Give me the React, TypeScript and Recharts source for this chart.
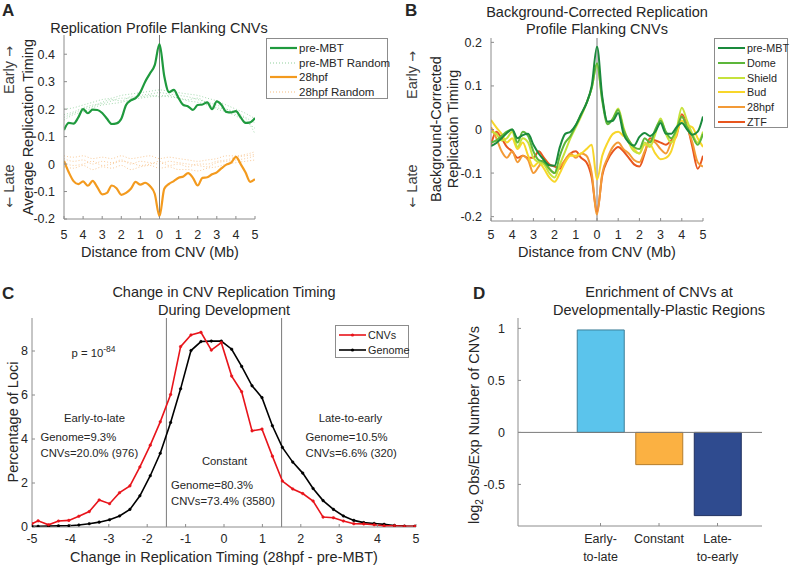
import React from "react";
import {
  LineChart,
  Line,
  BarChart,
  Bar,
  Cell,
  XAxis,
  YAxis,
  ReferenceLine,
} from "recharts";

const W = 797;
const H = 567;
const FONT = '"Liberation Sans", Arial, Helvetica, sans-serif';
const INK = "#262626";
const AXIS = "#8c8c8c";

// ---- panels A and B: distance from CNV (Mb)
const profileX = [
  -5, -4.75, -4.5, -4.25, -4, -3.75, -3.5, -3.25, -3, -2.75, -2.5, -2.25, -2,
  -1.75, -1.5, -1.25, -1, -0.75, -0.5, -0.25, 0, 0.25, 0.5, 0.75, 1, 1.25, 1.5,
  1.75, 2, 2.25, 2.5, 2.75, 3, 3.25, 3.5, 3.75, 4, 4.25, 4.5, 4.75, 5,
];
const distTicks = [-5, -4, -3, -2, -1, 0, 1, 2, 3, 4, 5];
const distTickLabels = ["5", "4", "3", "2", "1", "0", "1", "2", "3", "4", "5"];

const preMbtA = [
  0.124, 0.15, 0.147, 0.17, 0.2, 0.185, 0.198, 0.197, 0.186, 0.165, 0.146,
  0.148, 0.165, 0.215, 0.232, 0.24, 0.262, 0.3, 0.33, 0.36, 0.437, 0.32, 0.262,
  0.27, 0.24, 0.215, 0.21, 0.197, 0.215, 0.217, 0.225, 0.2, 0.228, 0.215, 0.19,
  0.188, 0.193, 0.17, 0.15, 0.152, 0.168,
];
const hpf28A = [
  0.012, -0.03, -0.062, -0.073, -0.063, -0.079, -0.061, -0.085, -0.11, -0.105,
  -0.078, -0.088, -0.112, -0.105, -0.09, -0.065, -0.075, -0.068, -0.08, -0.108,
  -0.19, -0.09, -0.072, -0.062, -0.05, -0.045, -0.033, -0.05, -0.078, -0.05,
  -0.048, -0.037, -0.03, -0.015, -0.002, 0.005, 0.026, 0.0, -0.03, -0.065,
  -0.055,
];

// random-position background profiles
const randomX = [
  -5, -4.5, -4, -3.5, -3, -2.5, -2, -1.5, -1, -0.5, 0, 0.5, 1, 1.5, 2, 2.5, 3,
  3.5, 4, 4.5, 5,
];
const preMbtRand1 = [0.18, 0.19, 0.205, 0.215, 0.22, 0.23, 0.24, 0.24, 0.25, 0.255, 0.26, 0.255, 0.25, 0.245, 0.235, 0.225, 0.215, 0.2, 0.19, 0.17, 0.15];
const preMbtRand2 = [0.16, 0.18, 0.19, 0.205, 0.215, 0.22, 0.225, 0.235, 0.24, 0.245, 0.25, 0.245, 0.24, 0.23, 0.225, 0.215, 0.2, 0.19, 0.175, 0.155, 0.13];
const preMbtRand3 = [0.2, 0.205, 0.215, 0.225, 0.235, 0.24, 0.25, 0.255, 0.26, 0.265, 0.27, 0.265, 0.26, 0.255, 0.25, 0.24, 0.23, 0.215, 0.2, 0.185, 0.165];
const preMbtRand4 = [0.17, 0.185, 0.2, 0.21, 0.225, 0.235, 0.23, 0.245, 0.245, 0.25, 0.245, 0.25, 0.24, 0.235, 0.24, 0.22, 0.205, 0.2, 0.18, 0.165, 0.11];
const hpf28Rand1 = [0.02, 0.01, 0.015, 0.0, 0.01, 0.005, 0.015, 0.0, 0.01, 0.005, 0.0, 0.01, 0.005, 0.0, -0.005, -0.01, 0.005, 0.01, 0.015, 0.02, 0.03];
const hpf28Rand2 = [-0.01, -0.015, -0.005, -0.02, -0.01, -0.015, -0.005, -0.02, -0.01, -0.005, -0.015, -0.01, -0.02, -0.02, -0.025, -0.015, -0.01, 0.0, 0.005, 0.01, 0.015];
const hpf28Rand3 = [0.03, 0.025, 0.03, 0.02, 0.025, 0.02, 0.03, 0.02, 0.025, 0.03, 0.02, 0.025, 0.02, 0.015, 0.01, 0.015, 0.02, 0.03, 0.03, 0.035, 0.045];
const hpf28Rand4 = [0.005, -0.005, 0.0, 0.01, -0.005, 0.0, 0.01, 0.005, -0.005, 0.0, 0.01, -0.005, 0.0, -0.01, 0.0, 0.0, 0.01, 0.015, 0.025, 0.03, 0.035];

// background-corrected profiles (panel B)
const preMbtB = [
  -0.038, -0.031, -0.02, -0.008, 0.0, -0.02, -0.013, -0.01, -0.035, -0.055,
  -0.07, -0.082, -0.083, -0.04, -0.01, -0.005, 0.01, 0.035, 0.06, 0.1, 0.19,
  0.075, 0.018, 0.02, 0.038, -0.01, -0.03, -0.037, -0.017, -0.008, -0.015,
  -0.005, 0.015, -0.01, -0.01, 0.005, 0.015, 0.0, -0.012, -0.005, 0.03,
];
const domeB = [
  -0.03, -0.025, -0.015, -0.005, 0.0, -0.03, -0.005, -0.015, -0.05, -0.07,
  -0.075, -0.09, -0.1, -0.06, -0.03, -0.015, 0.01, 0.035, 0.06, 0.095, 0.152,
  0.065, 0.012, 0.025, 0.045, 0.0, -0.025, -0.04, -0.045, -0.02, -0.03, 0.0,
  0.02, -0.005, -0.02, 0.0, 0.03, 0.005, -0.015, -0.035, -0.01,
];
const shieldB = [
  -0.005, -0.01, -0.025, -0.02, -0.005, -0.04, -0.02, -0.03, -0.065, -0.075,
  -0.08, -0.1, -0.11, -0.08, -0.05, -0.02, 0.005, 0.03, 0.06, 0.095, 0.15,
  0.07, 0.015, 0.025, 0.048, 0.005, -0.03, -0.05, -0.055, -0.03, -0.04, -0.01,
  0.025, -0.01, -0.03, 0.0, 0.05, 0.02, -0.01, -0.03, -0.005,
];
const budB = [
  0.022, 0.005, -0.01, -0.03, -0.02, -0.045, -0.03, -0.06, -0.085, -0.075,
  -0.09, -0.11, -0.12, -0.1, -0.075, -0.06, -0.06, -0.055, -0.045, -0.035,
  -0.115, -0.06, -0.03, -0.01, -0.005, -0.015, -0.025, -0.045, -0.055, -0.035,
  -0.035, -0.055, -0.068, -0.065, -0.05, -0.01, 0.02, 0.01, 0.005, -0.02,
  -0.04,
];
const hpf28B = [
  0.005, -0.02, -0.05, -0.065, -0.05, -0.075, -0.06, -0.07, -0.1, -0.085, -0.07,
  -0.09, -0.1, -0.085, -0.07, -0.055, -0.065, -0.055, -0.06, -0.1, -0.195, -0.1,
  -0.065, -0.04, -0.03, -0.045, -0.055, -0.07, -0.075, -0.05, -0.025, -0.03,
  -0.045, -0.055, -0.03, -0.015, 0.03, 0.005, -0.03, -0.075, -0.085,
];
const ztfB = [
  -0.035, -0.005, -0.02, -0.04, -0.05, -0.065, -0.06, -0.065, -0.065, -0.05,
  -0.065, -0.08, -0.085, -0.09, -0.07, -0.055, -0.05, -0.065, -0.075, -0.11,
  -0.19, -0.105, -0.07, -0.05, -0.04, -0.05, -0.065, -0.08, -0.085, -0.055,
  -0.02, -0.025, -0.03, -0.035, -0.025, -0.01, 0.035, 0.01, -0.04, -0.09, -0.06,
];

// ---- panel C: change in replication timing (28hpf - pre-MBT)
const changeX = [
  -5, -4.84, -4.57, -4.31, -4.04, -3.78, -3.51, -3.25, -2.98, -2.72, -2.45,
  -2.19, -1.92, -1.66, -1.39, -1.13, -0.86, -0.6, -0.33, -0.07, 0.2, 0.46, 0.73,
  0.99, 1.26, 1.52, 1.79, 2.05, 2.32, 2.58, 2.85, 3.11, 3.38, 3.64, 3.91, 4.17,
  4.44, 4.7, 4.97,
];
const cnvPct = [
  0.15, 0.28, 0.1, 0.27, 0.3, 0.49, 0.7, 1.23, 1.06, 1.56, 1.87, 2.73, 3.72,
  4.78, 6.02, 8.2, 8.73, 8.85, 8.04, 8.38, 6.86, 6.15, 4.37, 4.45, 3.22, 2.09,
  1.73, 1.52, 1.18, 0.45, 0.42, 0.27, 0.15, 0.14, 0.1, 0.05, 0.06, 0.03, 0.03,
];
const genomePct = [
  0.03, 0.03, 0.04, 0.05, 0.06, 0.09, 0.15, 0.22, 0.33, 0.5, 0.8, 1.42, 2.33,
  3.35, 4.75, 6.28, 8.02, 8.43, 8.45, 8.45, 8.08, 7.3, 6.42, 5.88, 4.6, 3.62,
  2.95, 2.45, 1.75, 1.2, 0.8, 0.5, 0.3, 0.2, 0.16, 0.12, 0.07, 0.04, 0.03,
];
const changeTicks = [-5, -4, -3, -2, -1, 0, 1, 2, 3, 4, 5];
const pctTicks = [0, 2, 4, 6, 8];

// ---- panel D: enrichment
const enrichPos = [1, 2, 3];
const enrichLabels = [
  ["Early-", "to-late"],
  ["Constant"],
  ["Late-", "to-early"],
];
const enrichVals = [0.985, -0.31, -0.8];
const enrichColors = ["#5bc4ec", "#fbb142", "#2f4b8f"];
const enrichEdges = ["#3d7f98", "#b57d2c", "#1f3060"];

const rowsA = profileX.map((x, i) => ({ x, pre: preMbtA[i], hpf: hpf28A[i] }));
const rowsB = profileX.map((x, i) => ({
  x,
  pre: preMbtB[i],
  dome: domeB[i],
  shield: shieldB[i],
  bud: budB[i],
  hpf: hpf28B[i],
  ztf: ztfB[i],
}));
const rowsC = changeX.map((x, i) => ({ x, cnv: cnvPct[i], genome: genomePct[i] }));
const rowsD = enrichPos.map((p, i) => ({ p, v: enrichVals[i] }));

const randSeries = (vals: number[]) => randomX.map((x, i) => ({ x, v: vals[i] }));

const tickFont = { fill: INK, fontSize: 12.5 };
const blank = () => "";

// margins so that the plot box lands on the given page coordinates
const box = (l: number, t: number, r: number, b: number, yw: number) => ({
  left: l - yw,
  top: t,
  right: W - r,
  bottom: H - b - 30,
});

// top / right axes: box lines with inward ticks, no labels
const frame = (xd: number[], xt: number[], yd: number[], yt: number[]) => [
  <XAxis
    key="top"
    xAxisId="top"
    orientation="top"
    type="number"
    domain={xd}
    ticks={xt}
    height={0}
    tickSize={-3}
    interval={0}
    tickFormatter={blank}
    stroke={AXIS}
    allowDataOverflow
  />,
  <YAxis
    key="right"
    yAxisId="right"
    orientation="right"
    type="number"
    domain={yd}
    ticks={yt}
    width={0}
    tickSize={-3}
    interval={0}
    tickFormatter={blank}
    stroke={AXIS}
    allowDataOverflow
  />,
];

const Txt = ({
  x,
  y,
  size = 14.5,
  rot = false,
  anchor = "middle",
  weight = 400,
  color = INK,
  children,
}: any) => {
  const tx = anchor === "middle" ? "-50%" : anchor === "end" ? "-100%" : "0";
  return (
    <div
      style={{
        position: "absolute",
        left: x,
        top: y,
        transform: `translate(${tx}, -50%)${rot ? " rotate(-90deg)" : ""}`,
        fontSize: size,
        fontWeight: weight,
        color,
        whiteSpace: "nowrap",
        lineHeight: 1.15,
      }}
    >
      {children}
    </div>
  );
};

const Arrow = ({ c }: { c: string }) => (
  <span style={{ fontFamily: '"DejaVu Sans", sans-serif', fontSize: 13 }}>{c}</span>
);

interface LegendItem {
  label: string;
  color: string;
  width: number;
  dash?: string;
  opacity?: number;
  dot?: boolean;
}

const LegendBox = ({ x, y, w, h, first, step, size, items }: any) => (
  <div
    style={{
      position: "absolute",
      left: x,
      top: y,
      width: w,
      height: h,
      border: `1px solid ${AXIS}`,
      background: "#fff",
      boxSizing: "border-box",
    }}
  >
    {items.map((it: LegendItem, i: number) => (
      <div
        key={it.label}
        style={{
          position: "absolute",
          left: 2,
          top: first + i * step - 8,
          height: 16,
          display: "flex",
          alignItems: "center",
          fontSize: size,
          color: INK,
          whiteSpace: "nowrap",
        }}
      >
        <svg width={29} height={8}>
          <line
            x1={1}
            y1={4}
            x2={28}
            y2={4}
            stroke={it.color}
            strokeWidth={it.width}
            strokeDasharray={it.dash}
            opacity={it.opacity ?? 1}
          />
          {it.dot && <circle cx={14.5} cy={4} r={1.6} fill={it.color} />}
        </svg>
        <span style={{ marginLeft: 1 }}>{it.label}</span>
      </div>
    ))}
  </div>
);

const CatTick = (props: any) => {
  const { x, y, payload } = props;
  const lines = enrichLabels[enrichPos.indexOf(payload.value)] || [];
  return (
    <text x={x} y={y} textAnchor="middle" fill={INK} fontSize={12.5}>
      {lines.map((s, i) => (
        <tspan key={s} x={x} dy={i === 0 ? "0.71em" : "1.42em"}>
          {s}
        </tspan>
      ))}
    </text>
  );
};

const layer: React.CSSProperties = { position: "absolute", left: 0, top: 0 };

const App = () => {
  const greenRand = "#8fcf9b";
  const orangeRand = "#f7bd80";
  return (
    <div
      style={{
        position: "absolute",
        left: 0,
        top: 0,
        width: W,
        height: H,
        background: "#fff",
        overflow: "hidden",
        fontFamily: FONT,
      }}
    >
      {/* ---------- A ---------- */}
      <div style={layer}>
        <LineChart width={W} height={H} data={rowsA} margin={box(64, 35, 255, 219, 40)}>
          <XAxis
            dataKey="x"
            type="number"
            domain={[-5, 5]}
            ticks={distTicks}
            interval={0}
            tickFormatter={(v: number) => distTickLabels[distTicks.indexOf(v)]}
            tickSize={-3}
            tickMargin={14}
            tick={tickFont}
            stroke={AXIS}
            height={30}
            allowDataOverflow
          />
          <YAxis
            type="number"
            domain={[-0.2, 0.47]}
            ticks={[-0.2, -0.1, 0, 0.1, 0.2, 0.3, 0.4]}
            interval={0}
            tickSize={-3}
            tickMargin={12}
            tick={tickFont}
            stroke={AXIS}
            width={40}
            allowDataOverflow
          />
          {frame([-5, 5], distTicks, [-0.2, 0.47], [-0.2, -0.1, 0, 0.1, 0.2, 0.3, 0.4])}
          {[preMbtRand1, preMbtRand2, preMbtRand3, preMbtRand4].map((r, i) => (
            <Line
              key={"g" + i}
              data={randSeries(r)}
              dataKey="v"
              type="monotone"
              stroke={greenRand}
              strokeWidth={1}
              strokeDasharray="1 2"
              strokeOpacity={0.8}
              dot={false}
              activeDot={false}
              isAnimationActive={false}
            />
          ))}
          {[hpf28Rand1, hpf28Rand2, hpf28Rand3, hpf28Rand4].map((r, i) => (
            <Line
              key={"o" + i}
              data={randSeries(r)}
              dataKey="v"
              type="monotone"
              stroke={orangeRand}
              strokeWidth={1}
              strokeDasharray="1 2"
              strokeOpacity={0.8}
              dot={false}
              activeDot={false}
              isAnimationActive={false}
            />
          ))}
          <ReferenceLine x={0} stroke="#7a7a7a" strokeWidth={1} />
          <Line dataKey="pre" type="monotone" stroke="#1f9a3e" strokeWidth={2.2} dot={false} activeDot={false} isAnimationActive={false} />
          <Line dataKey="hpf" type="monotone" stroke="#f39a1e" strokeWidth={2.2} dot={false} activeDot={false} isAnimationActive={false} />
        </LineChart>
      </div>

      {/* ---------- B ---------- */}
      <div style={layer}>
        <LineChart width={W} height={H} data={rowsB} margin={box(491, 38, 703, 221, 40)}>
          <XAxis
            dataKey="x"
            type="number"
            domain={[-5, 5]}
            ticks={distTicks}
            interval={0}
            tickFormatter={(v: number) => distTickLabels[distTicks.indexOf(v)]}
            tickSize={-3}
            tickMargin={12}
            tick={tickFont}
            stroke={AXIS}
            height={30}
            allowDataOverflow
          />
          <YAxis
            type="number"
            domain={[-0.21, 0.21]}
            ticks={[-0.2, -0.1, 0, 0.1, 0.2]}
            interval={0}
            tickSize={-3}
            tickMargin={12}
            tick={tickFont}
            stroke={AXIS}
            width={40}
            allowDataOverflow
          />
          {frame([-5, 5], distTicks, [-0.21, 0.21], [-0.2, -0.1, 0, 0.1, 0.2])}
          <ReferenceLine x={0} stroke="#7a7a7a" strokeWidth={1} />
          <Line dataKey="ztf" type="monotone" stroke="#e8561e" strokeWidth={2} dot={false} activeDot={false} isAnimationActive={false} />
          <Line dataKey="hpf" type="monotone" stroke="#f39a36" strokeWidth={2} dot={false} activeDot={false} isAnimationActive={false} />
          <Line dataKey="bud" type="monotone" stroke="#f8d62a" strokeWidth={2} dot={false} activeDot={false} isAnimationActive={false} />
          <Line dataKey="shield" type="monotone" stroke="#c6e23c" strokeWidth={2} dot={false} activeDot={false} isAnimationActive={false} />
          <Line dataKey="dome" type="monotone" stroke="#5cb63a" strokeWidth={2} dot={false} activeDot={false} isAnimationActive={false} />
          <Line dataKey="pre" type="monotone" stroke="#1a8a3c" strokeWidth={2} dot={false} activeDot={false} isAnimationActive={false} />
        </LineChart>
      </div>

      {/* ---------- C ---------- */}
      <div style={layer}>
        <LineChart width={W} height={H} data={rowsC} margin={box(32, 318, 416, 527, 30)}>
          <XAxis
            dataKey="x"
            type="number"
            domain={[-5, 5]}
            ticks={changeTicks}
            interval={0}
            tickSize={-3}
            tickMargin={10.5}
            tick={tickFont}
            stroke={AXIS}
            height={30}
            allowDataOverflow
          />
          <YAxis
            type="number"
            domain={[0, 9.5]}
            ticks={pctTicks}
            interval={0}
            tickSize={-3}
            tickMargin={7}
            tick={tickFont}
            stroke={AXIS}
            width={30}
            allowDataOverflow
          />
          {frame([-5, 5], changeTicks, [0, 9.5], pctTicks)}
          <ReferenceLine x={-1.5} stroke="#7a7a7a" strokeWidth={1} />
          <ReferenceLine x={1.5} stroke="#7a7a7a" strokeWidth={1} />
          <Line
            dataKey="genome"
            type="linear"
            stroke="#000"
            strokeWidth={1.6}
            dot={{ r: 1.3, fill: "#000", stroke: "#000", strokeWidth: 0.5 }}
            activeDot={false}
            isAnimationActive={false}
          />
          <Line
            dataKey="cnv"
            type="linear"
            stroke="#e8141b"
            strokeWidth={1.6}
            dot={{ r: 1.3, fill: "#e8141b", stroke: "#e8141b", strokeWidth: 0.5 }}
            activeDot={false}
            isAnimationActive={false}
          />
        </LineChart>
      </div>

      {/* ---------- D ---------- */}
      <div style={layer}>
        <BarChart width={W} height={H} data={rowsD} margin={box(518, 318, 762, 526, 40)}>
          <XAxis
            dataKey="p"
            type="number"
            domain={[-0.41, 3.76]}
            ticks={enrichPos}
            interval={0}
            tickSize={-3}
            tickMargin={11.5}
            tick={<CatTick />}
            stroke={AXIS}
            height={30}
            allowDataOverflow
          />
          <YAxis
            type="number"
            domain={[-0.9, 1.1]}
            ticks={[-0.5, 0, 0.5, 1]}
            interval={0}
            tickSize={-3}
            tickMargin={16}
            tick={tickFont}
            stroke={AXIS}
            width={40}
            allowDataOverflow
          />
          {frame([-0.41, 3.76], enrichPos, [-0.9, 1.1], [-0.5, 0, 0.5, 1])}
          <Bar dataKey="v" barSize={47} isAnimationActive={false}>
            {rowsD.map((r, i) => (
              <Cell key={r.p} fill={enrichColors[i]} stroke={enrichEdges[i]} strokeWidth={1} />
            ))}
          </Bar>
          <ReferenceLine y={0} stroke="#7a7a7a" strokeWidth={1} />
        </BarChart>
      </div>

      {/* ---------- text: A ---------- */}
      <Txt x={2} y={11} size={17} weight={700} anchor="start">A</Txt>
      <Txt x={159} y={28}>Replication Profile Flanking CNVs</Txt>
      <Txt x={160} y={252}>Distance from CNV (Mb)</Txt>
      <Txt x={28} y={127} rot>Average Replication Timing</Txt>
      <Txt x={8.5} y={70} rot color="#404040">Early <Arrow c="→" /></Txt>
      <Txt x={8.5} y={186} rot color="#404040"><Arrow c="←" /> Late</Txt>
      <LegendBox
        x={266}
        y={38}
        w={122}
        h={61}
        first={9}
        step={14.6}
        size={11.5}
        items={[
          { label: "pre-MBT", color: "#1f9a3e", width: 2.2 },
          { label: "pre-MBT Random", color: greenRand, width: 1, dash: "1 2" },
          { label: "28hpf", color: "#f39a1e", width: 2.2 },
          { label: "28hpf Random", color: orangeRand, width: 1, dash: "1 2" },
        ]}
      />

      {/* ---------- text: B ---------- */}
      <Txt x={405} y={11} size={17} weight={700} anchor="start">B</Txt>
      <Txt x={597} y={12}>Background-Corrected Replication</Txt>
      <Txt x={597} y={29}>Profile Flanking CNVs</Txt>
      <Txt x={597} y={252}>Distance from CNV (Mb)</Txt>
      <Txt x={436} y={129} rot>Background-Corrected</Txt>
      <Txt x={453} y={129} rot>Replication Timing</Txt>
      <Txt x={412} y={75} rot color="#404040">Early <Arrow c="→" /></Txt>
      <Txt x={412} y={186} rot color="#404040"><Arrow c="←" /> Late</Txt>
      <LegendBox
        x={714}
        y={38}
        w={74}
        h={90}
        first={9.3}
        step={14.7}
        size={10.8}
        items={[
          { label: "pre-MBT", color: "#1a8a3c", width: 2 },
          { label: "Dome", color: "#5cb63a", width: 2 },
          { label: "Shield", color: "#c6e23c", width: 2 },
          { label: "Bud", color: "#f8d62a", width: 2 },
          { label: "28hpf", color: "#f39a36", width: 2 },
          { label: "ZTF", color: "#e8561e", width: 2 },
        ]}
      />

      {/* ---------- text: C ---------- */}
      <Txt x={2} y={294} size={17} weight={700} anchor="start">C</Txt>
      <Txt x={224} y={292}>Change in CNV Replication Timing</Txt>
      <Txt x={224} y={310}>During Development</Txt>
      <Txt x={224} y={557}>Change in Replication Timing (28hpf - pre-MBT)</Txt>
      <Txt x={12.5} y={422} rot>Percentage of Loci</Txt>
      <Txt x={71.5} y={353} size={11.3} anchor="start">
        p = 10<span style={{ fontSize: 8.5, position: "relative", top: -5 }}>-84</span>
      </Txt>
      <Txt x={94.5} y={417.5} size={11.3}>Early-to-late</Txt>
      <Txt x={40.5} y={436.5} size={11.3} anchor="start">Genome=9.3%</Txt>
      <Txt x={40.5} y={452.5} size={11.3} anchor="start">CNVs=20.0% (976)</Txt>
      <Txt x={224.5} y={461} size={11.3}>Constant</Txt>
      <Txt x={171} y={485} size={11.3} anchor="start">Genome=80.3%</Txt>
      <Txt x={171} y={500.5} size={11.3} anchor="start">CNVs=73.4% (3580)</Txt>
      <Txt x={350.5} y={417.5} size={11.3}>Late-to-early</Txt>
      <Txt x={305.5} y={436.5} size={11.3} anchor="start">Genome=10.5%</Txt>
      <Txt x={305.5} y={452.5} size={11.3} anchor="start">CNVs=6.6% (320)</Txt>
      <LegendBox
        x={335}
        y={325}
        w={74}
        h={33}
        first={8.5}
        step={15.7}
        size={10.8}
        items={[
          { label: "CNVs", color: "#e8141b", width: 1.6, dot: true },
          { label: "Genome", color: "#000", width: 1.6, dot: true },
        ]}
      />

      {/* ---------- text: D ---------- */}
      <Txt x={473} y={294} size={17} weight={700} anchor="start">D</Txt>
      <Txt x={659} y={292}>Enrichment of CNVs at</Txt>
      <Txt x={659} y={310}>Developmentally-Plastic Regions</Txt>
      <Txt x={476} y={425} rot>
        log<sub style={{ fontSize: 10 }}>2</sub> Obs/Exp Number of CNVs
      </Txt>
    </div>
  );
};

export default App;
